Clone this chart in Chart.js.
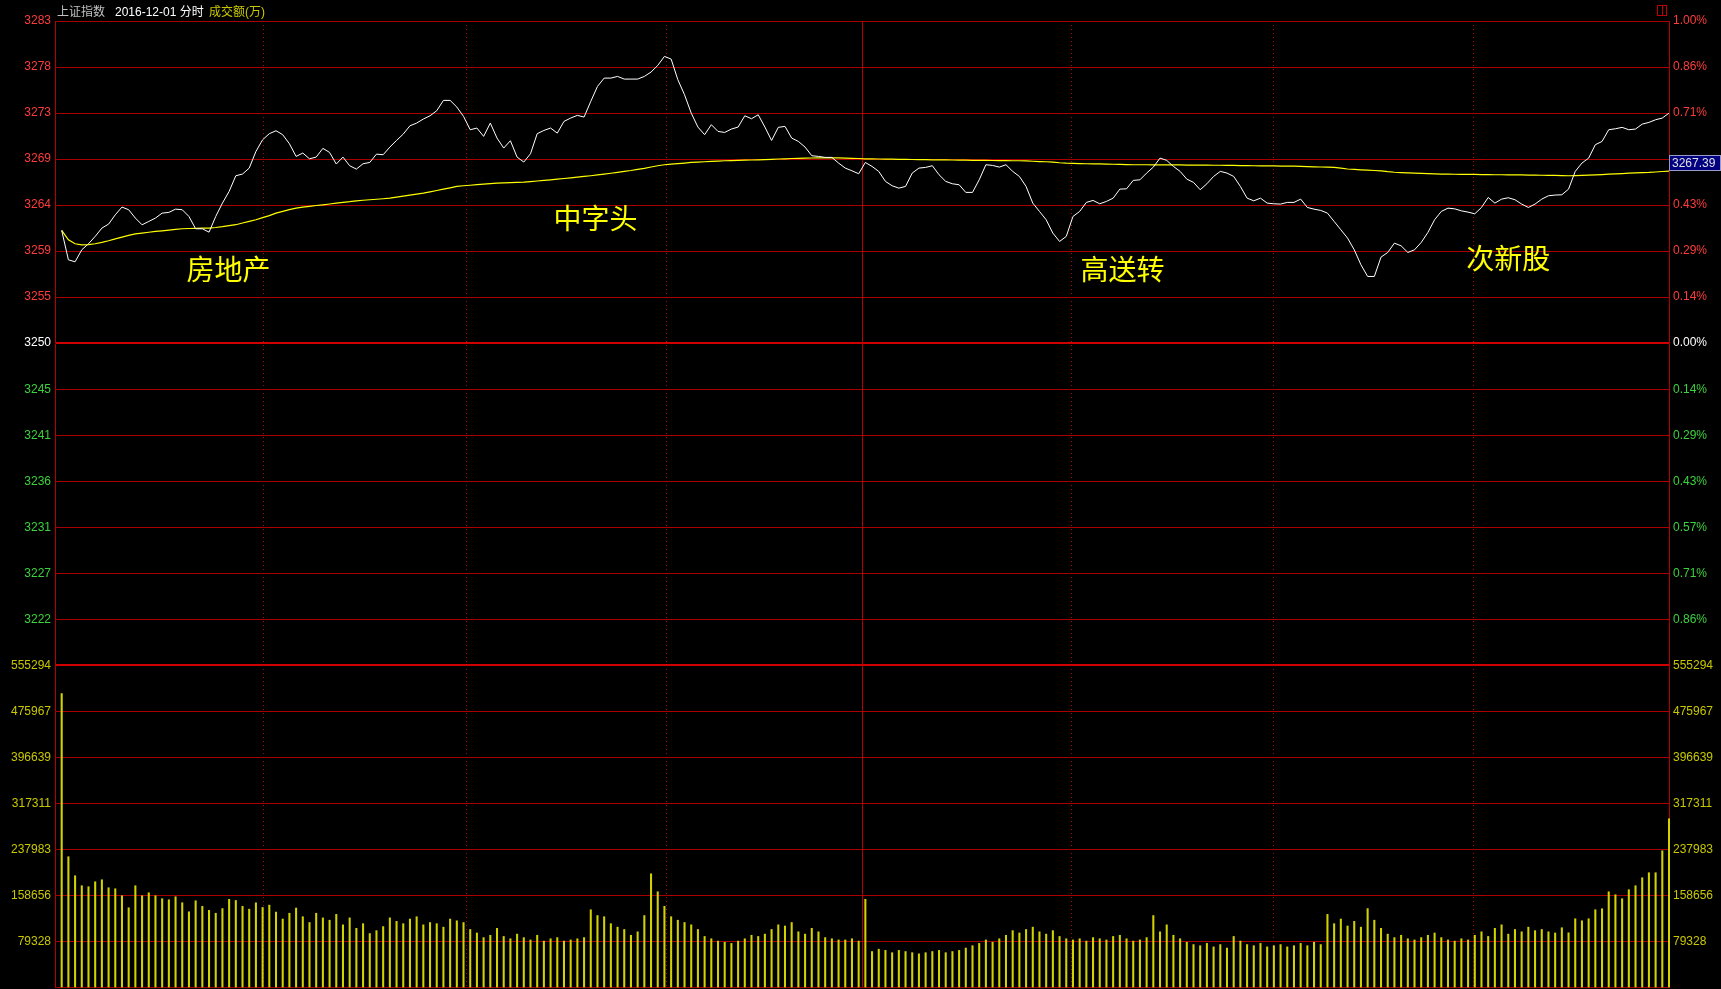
<!DOCTYPE html>
<html>
<head>
<meta charset="utf-8">
<title>上证指数 分时</title>
<script src="https://cdn.jsdelivr.net/npm/chart.js"></script>
<style>
  html, body { margin: 0; padding: 0; background: #000; }
  canvas { display: block; }
</style>
</head>
<body>
<canvas id="chart" width="1721" height="989"></canvas>
<script>
// 昨收
const prevClose = 3250.03;

// 分时价格 (241 分钟)
const price = [
  3261.40, 3258.44, 3258.24, 3259.45, 3260.06, 3260.80, 3261.64, 3262.04, 3262.98, 3263.76,
  3263.49, 3262.65, 3261.97, 3262.31, 3262.65, 3263.15, 3263.22, 3263.55, 3263.49, 3262.81,
  3261.57, 3261.57, 3261.23, 3262.81, 3264.16, 3265.34, 3266.92, 3267.09, 3267.69, 3269.37,
  3270.55, 3271.16, 3271.46, 3271.06, 3270.15, 3268.87, 3269.21, 3268.63, 3268.80, 3269.68,
  3269.27, 3268.10, 3268.80, 3267.93, 3267.59, 3268.13, 3268.26, 3269.10, 3269.04, 3269.81,
  3270.48, 3271.12, 3271.96, 3272.23, 3272.64, 3272.97, 3273.48, 3274.52, 3274.52, 3273.85,
  3272.91, 3271.56, 3271.73, 3270.89, 3272.23, 3270.72, 3269.71, 3270.45, 3268.80, 3268.30,
  3269.14, 3271.16, 3271.49, 3271.73, 3271.22, 3272.40, 3272.74, 3273.01, 3272.84, 3274.42,
  3275.93, 3276.77, 3276.77, 3276.94, 3276.67, 3276.67, 3276.67, 3276.94, 3277.38, 3278.05,
  3278.96, 3278.69, 3276.61, 3275.09, 3273.24, 3271.83, 3271.06, 3272.07, 3271.39, 3271.29,
  3271.63, 3271.83, 3272.97, 3272.67, 3273.07, 3271.83, 3270.48, 3271.80, 3271.90, 3270.72,
  3270.38, 3269.81, 3268.94, 3268.87, 3268.77, 3268.77, 3268.20, 3267.69, 3267.42, 3267.12,
  3268.26, 3267.86, 3267.36, 3266.35, 3265.91, 3265.67, 3265.84, 3267.19, 3267.69, 3267.76,
  3267.93, 3267.02, 3266.35, 3266.11, 3266.01, 3265.24, 3265.24, 3266.51, 3268.03, 3267.96,
  3267.79, 3268.03, 3267.36, 3266.85, 3265.84, 3264.16, 3263.32, 3262.48, 3261.13, 3260.29,
  3260.80, 3262.81, 3263.32, 3264.23, 3264.43, 3264.09, 3264.33, 3264.66, 3265.57, 3265.60,
  3266.45, 3266.51, 3267.19, 3267.79, 3268.70, 3268.47, 3267.86, 3267.36, 3266.58, 3266.25,
  3265.51, 3266.11, 3266.85, 3267.36, 3267.19, 3266.85, 3265.84, 3264.66, 3264.39, 3264.66,
  3264.16, 3264.09, 3264.06, 3264.23, 3264.23, 3264.56, 3263.72, 3263.55, 3263.42, 3263.15,
  3262.31, 3261.47, 3260.63, 3259.45, 3257.94, 3256.76, 3256.76, 3258.71, 3259.18, 3260.12,
  3259.85, 3259.18, 3259.45, 3260.19, 3261.20, 3262.48, 3263.32, 3263.65, 3263.58, 3263.38,
  3263.25, 3263.08, 3263.72, 3264.73, 3264.16, 3264.56, 3264.70, 3264.50, 3264.06, 3263.72,
  3264.06, 3264.56, 3264.90, 3264.97, 3265.00, 3265.57, 3267.36, 3268.20, 3268.70, 3270.05,
  3270.38, 3271.56, 3271.66, 3271.80, 3271.56, 3271.63, 3272.13, 3272.30, 3272.57, 3272.74, 3273.24
];

// 均价线
const avgPrice = [
  3261.40, 3260.46, 3260.06, 3259.95, 3259.98, 3260.06, 3260.20, 3260.36, 3260.55, 3260.73,
  3260.90, 3261.06, 3261.14, 3261.22, 3261.30, 3261.36, 3261.43, 3261.50, 3261.57, 3261.60,
  3261.62, 3261.64, 3261.64, 3261.70, 3261.78, 3261.88, 3261.98, 3262.15, 3262.32, 3262.48,
  3262.70, 3262.90, 3263.15, 3263.32, 3263.50, 3263.65, 3263.75, 3263.83, 3263.92, 3263.99,
  3264.07, 3264.15, 3264.23, 3264.30, 3264.39, 3264.45, 3264.50, 3264.55, 3264.60, 3264.66,
  3264.76, 3264.86, 3264.96, 3265.06, 3265.17, 3265.30, 3265.43, 3265.57, 3265.70, 3265.84,
  3265.91, 3265.96, 3266.02, 3266.07, 3266.13, 3266.18, 3266.20, 3266.22, 3266.25, 3266.28,
  3266.33, 3266.39, 3266.45, 3266.51, 3266.58, 3266.64, 3266.71, 3266.78, 3266.85, 3266.92,
  3267.00, 3267.08, 3267.17, 3267.26, 3267.36, 3267.45, 3267.56, 3267.67, 3267.80, 3267.93,
  3268.03, 3268.10, 3268.15, 3268.20, 3268.26, 3268.29, 3268.33, 3268.36, 3268.39, 3268.43,
  3268.45, 3268.47, 3268.49, 3268.51, 3268.53, 3268.55, 3268.58, 3268.61, 3268.63, 3268.66,
  3268.68, 3268.70, 3268.71, 3268.72, 3268.73, 3268.73, 3268.72, 3268.70, 3268.68, 3268.66,
  3268.63, 3268.62, 3268.61, 3268.60, 3268.59, 3268.58, 3268.57, 3268.56, 3268.55, 3268.54,
  3268.53, 3268.53, 3268.52, 3268.51, 3268.50, 3268.49, 3268.48, 3268.48, 3268.47, 3268.46,
  3268.45, 3268.44, 3268.43, 3268.43, 3268.41, 3268.38, 3268.35, 3268.33, 3268.29, 3268.23,
  3268.19, 3268.17, 3268.15, 3268.13, 3268.12, 3268.11, 3268.10, 3268.08, 3268.06, 3268.05,
  3268.03, 3268.03, 3268.03, 3268.02, 3268.02, 3268.01, 3268.01, 3268.01, 3268.00, 3268.00,
  3268.00, 3267.99, 3267.98, 3267.98, 3267.97, 3267.96, 3267.95, 3267.94, 3267.93, 3267.92,
  3267.92, 3267.91, 3267.90, 3267.89, 3267.88, 3267.86, 3267.84, 3267.82, 3267.80, 3267.78,
  3267.76, 3267.68, 3267.60, 3267.56, 3267.52, 3267.48, 3267.45, 3267.42, 3267.33, 3267.27,
  3267.24, 3267.21, 3267.19, 3267.16, 3267.13, 3267.11, 3267.09, 3267.08, 3267.07, 3267.06,
  3267.06, 3267.05, 3267.04, 3267.03, 3267.02, 3267.02, 3267.01, 3267.00, 3267.00, 3266.99,
  3266.98, 3266.97, 3266.96, 3266.95, 3266.93, 3266.92, 3266.93, 3266.95, 3266.98, 3267.01,
  3267.04, 3267.08, 3267.11, 3267.14, 3267.18, 3267.20, 3267.23, 3267.25, 3267.30, 3267.35, 3267.39
];

// 成交额(万)
const volume = [
  506500, 225400, 192600, 175400, 173700, 182300, 185700, 171900, 170200, 158100,
  137400, 175400, 158100, 163300, 158100, 153000, 151200, 156400, 146100, 130500,
  149500, 140000, 133000, 128000, 136000, 152000, 150000, 140000, 135000, 146000,
  138000, 142000, 130000, 118000, 128000, 137000, 122000, 112000, 128000, 120000,
  116000, 126000, 108000, 120000, 102000, 110000, 93000, 98000, 105000, 120000,
  114000, 110000, 118000, 122000, 108000, 112000, 110000, 104000, 118000, 115000,
  112000, 100000, 94000, 86000, 90000, 102000, 88000, 84000, 92000, 86000,
  82000, 90000, 80000, 84000, 86000, 80000, 82000, 84000, 86000, 134000,
  124000, 122000, 110000, 104000, 100000, 90000, 96000, 124000, 196000, 165000,
  140000, 122000, 116000, 112000, 108000, 100000, 88000, 84000, 80000, 78000,
  76000, 80000, 84000, 90000, 88000, 92000, 100000, 108000, 106000, 112000,
  96000, 92000, 102000, 96000, 86000, 84000, 82000, 82000, 84000, 80000,
  152000, 62000, 66000, 64000, 60000, 64000, 62000, 60000, 58000, 60000,
  62000, 64000, 60000, 62000, 64000, 68000, 72000, 76000, 82000, 78000,
  84000, 90000, 98000, 94000, 100000, 104000, 96000, 92000, 98000, 88000,
  84000, 82000, 84000, 80000, 86000, 84000, 82000, 88000, 90000, 84000,
  80000, 82000, 86000, 124000, 96000, 108000, 90000, 84000, 78000, 74000,
  72000, 76000, 70000, 74000, 68000, 88000, 80000, 74000, 72000, 76000,
  70000, 72000, 74000, 70000, 72000, 76000, 72000, 78000, 74000, 126000,
  110000, 118000, 106000, 114000, 104000, 136000, 116000, 102000, 92000, 86000,
  90000, 84000, 82000, 86000, 90000, 94000, 86000, 82000, 80000, 84000,
  82000, 90000, 96000, 88000, 102000, 108000, 92000, 100000, 96000, 104000,
  98000, 100000, 96000, 94000, 103000, 94300, 118500, 115000, 118500, 134000,
  135700, 165000, 159900, 153000, 168500, 175400, 189200, 197800, 197800, 235700, 290900
];

// 刻度文字 (自下而上)
const priceTickLabels = ['', '3222', '3227', '3231', '3236', '3241', '3245', '3250',
  '3255', '3259', '3264', '3269', '3273', '3278', '3283'];
const pctTickLabels = ['', '0.86%', '0.71%', '0.57%', '0.43%', '0.29%', '0.14%', '0.00%',
  '0.14%', '0.29%', '0.43%', '0.57%', '0.71%', '0.86%', '1.00%'];
const volTickLabels = ['', '79328', '158656', '237983', '317311', '396639', '475967', '555294'];
const volMax = 555294;

// 半小时分隔线 (分钟序号), 午间为实线
const dividerMinutes = [30.1, 60.4, 90.3, 119.5, 150.7, 180.8, 210.8];
const middayMinute = 119.5;

const notes = [
  { text: '房地产', minute: 24.9, value: 3257.5 },
  { text: '中字头', minute: 79.7, value: 3262.6 },
  { text: '高送转', minute: 158.4, value: 3257.5 },
  { text: '次新股', minute: 216.0, value: 3258.6 }
];

const RED = '#ff3c3c', GREEN = '#3cd23c', WHITE = '#ffffff', YEL = '#c8c800';
const GRID = '#a80000', GRID_BOLD = '#d00000';
const tickFont = { family: '"Liberation Sans", Arial, sans-serif', size: 12 };

const mid = 7;
const priceTicks = priceTickLabels.map((_, k) => prevClose * (1 + (k - mid) / 700));
const volTicks = volTickLabels.map((_, k) => volMax * k / 7);

function fixWidth(w) {
  return function (axis) {
    axis.width = w;
    axis.paddingTop = 0;
    axis.paddingBottom = 0;
  };
}
function updownColor(ctx) {
  return ctx.index > mid ? RED : (ctx.index === mid ? WHITE : GREEN);
}

const overlay = {
  id: 'overlay',
  beforeDatasetsDraw(chart) {
    const { ctx, chartArea: a, scales: { x } } = chart;
    ctx.save();
    ctx.strokeStyle = '#b80000';
    ctx.lineWidth = 1;
    dividerMinutes.forEach(m => {
      const px = Math.round(x.getPixelForValue(m)) + 0.5;
      ctx.setLineDash(m === middayMinute ? [] : [1, 3]);
      ctx.beginPath();
      ctx.moveTo(px, a.top);
      ctx.lineTo(px, a.bottom);
      ctx.stroke();
    });
    ctx.restore();
  },
  afterDraw(chart) {
    const { ctx, scales: { x, yP } } = chart;
    ctx.save();

    // 标题
    ctx.textBaseline = 'alphabetic';
    ctx.textAlign = 'left';
    ctx.font = '12px "Noto Sans CJK SC", sans-serif';
    ctx.fillStyle = '#c0c0c0';
    ctx.fillText('上证指数', 57, 16);
    ctx.font = '12px "Liberation Sans", "Noto Sans CJK SC", sans-serif';
    ctx.fillStyle = WHITE;
    ctx.fillText('2016-12-01 分时', 115, 16);
    ctx.fillStyle = YEL;
    ctx.fillText('成交额(万)', 209, 16);

    // 板块标注
    ctx.font = '28px "Noto Sans CJK SC", sans-serif';
    ctx.fillStyle = '#ffff00';
    ctx.textAlign = 'center';
    ctx.textBaseline = 'middle';
    notes.forEach(n => {
      ctx.fillText(n.text, x.getPixelForValue(n.minute), yP.getPixelForValue(n.value));
    });

    // 右侧均价框 (盖住下面的刻度文字)
    const last = avgPrice[avgPrice.length - 1];
    const py = Math.round(yP.getPixelForValue(last));
    ctx.fillStyle = '#000000';
    ctx.fillRect(1670, py - 24, 51, 9);
    ctx.fillStyle = '#000080';
    ctx.fillRect(1669, py - 16, 52, 16);
    ctx.strokeStyle = '#9a9ac8';
    ctx.lineWidth = 1;
    ctx.strokeRect(1669.5, py - 15.5, 51, 15);
    ctx.fillStyle = '#e0e0e0';
    ctx.font = '12px "Liberation Sans", Arial, sans-serif';
    ctx.textAlign = 'left';
    ctx.fillText(last.toFixed(2), 1672, py - 7.5);

    // 右上角小图标
    ctx.strokeStyle = '#c00000';
    ctx.strokeRect(1657.5, 5.5, 9, 10);
    ctx.beginPath();
    ctx.moveTo(1662.5, 5.5);
    ctx.lineTo(1662.5, 15.5);
    ctx.stroke();
    ctx.restore();
  }
};

const toXY = arr => arr.map((v, i) => ({ x: i, y: v }));

new Chart(document.getElementById('chart'), {
  type: 'line',
  data: {
    datasets: [
      {
        data: toXY(price), yAxisID: 'yP', borderColor: '#ffffff', borderWidth: 1,
        pointRadius: 0, tension: 0
      },
      {
        data: toXY(avgPrice), yAxisID: 'yP', borderColor: '#ffff00', borderWidth: 1.2,
        pointRadius: 0, tension: 0
      },
      {
        type: 'bar', data: toXY(volume), yAxisID: 'yV', backgroundColor: '#d2d200',
        borderWidth: 0, barThickness: 1.4, clip: false
      }
    ]
  },
  options: {
    responsive: false,
    devicePixelRatio: 1,
    animation: false,
    events: [],
    layout: { padding: { top: 21, bottom: 1.5, left: 0, right: 0 } },
    plugins: { legend: { display: false }, tooltip: { enabled: false } },
    scales: {
      x: { type: 'linear', min: -1, max: 240, display: false, offset: false },
      // left boxes are stacked in reverse order, so the volume axis comes first here
      yV: {
        type: 'linear', position: 'left', stack: 'left', stackWeight: 1,
        min: 0, max: volMax,
        afterBuildTicks: axis => { axis.ticks = volTicks.map(v => ({ value: v })); },
        afterFit: fixWidth(55),
        ticks: {
          autoSkip: false, padding: 4, font: tickFont, color: YEL,
          callback: (v, i) => volTickLabels[i]
        },
        grid: {
          drawTicks: false,
          color: ctx => ctx.index === volTicks.length - 1 ? GRID_BOLD : GRID,
          lineWidth: ctx => ctx.index === volTicks.length - 1 ? 2 : 1
        },
        border: { color: '#b40000', width: 1 }
      },
      yP: {
        type: 'linear', position: 'left', stack: 'left', stackWeight: 2,
        min: priceTicks[0], max: priceTicks[priceTicks.length - 1],
        afterBuildTicks: axis => { axis.ticks = priceTicks.map(v => ({ value: v })); },
        afterFit: fixWidth(55),
        ticks: {
          autoSkip: false, padding: 4, font: tickFont, color: updownColor,
          callback: (v, i) => priceTickLabels[i]
        },
        grid: {
          drawTicks: false,
          color: ctx => ctx.index === 0 ? 'rgba(0,0,0,0)' : (ctx.index === mid ? GRID_BOLD : GRID),
          lineWidth: ctx => ctx.index === mid ? 2 : 1
        },
        border: { color: '#b40000', width: 1 }
      },
      yPct: {
        type: 'linear', position: 'right', stack: 'right', stackWeight: 2,
        min: priceTicks[0], max: priceTicks[priceTicks.length - 1],
        afterBuildTicks: axis => { axis.ticks = priceTicks.map(v => ({ value: v })); },
        afterFit: fixWidth(52),
        ticks: {
          autoSkip: false, padding: 4, font: tickFont, color: updownColor,
          callback: (v, i) => pctTickLabels[i]
        },
        grid: { drawOnChartArea: false, drawTicks: false },
        border: { color: '#b40000', width: 1 }
      },
      yVR: {
        type: 'linear', position: 'right', stack: 'right', stackWeight: 1,
        min: 0, max: volMax,
        afterBuildTicks: axis => { axis.ticks = volTicks.map(v => ({ value: v })); },
        afterFit: fixWidth(52),
        ticks: {
          autoSkip: false, padding: 4, font: tickFont, color: YEL,
          callback: (v, i) => volTickLabels[i]
        },
        grid: { drawOnChartArea: false, drawTicks: false },
        border: { color: '#b40000', width: 1 }
      }
    }
  },
  plugins: [overlay]
});
</script>
</body>
</html>
